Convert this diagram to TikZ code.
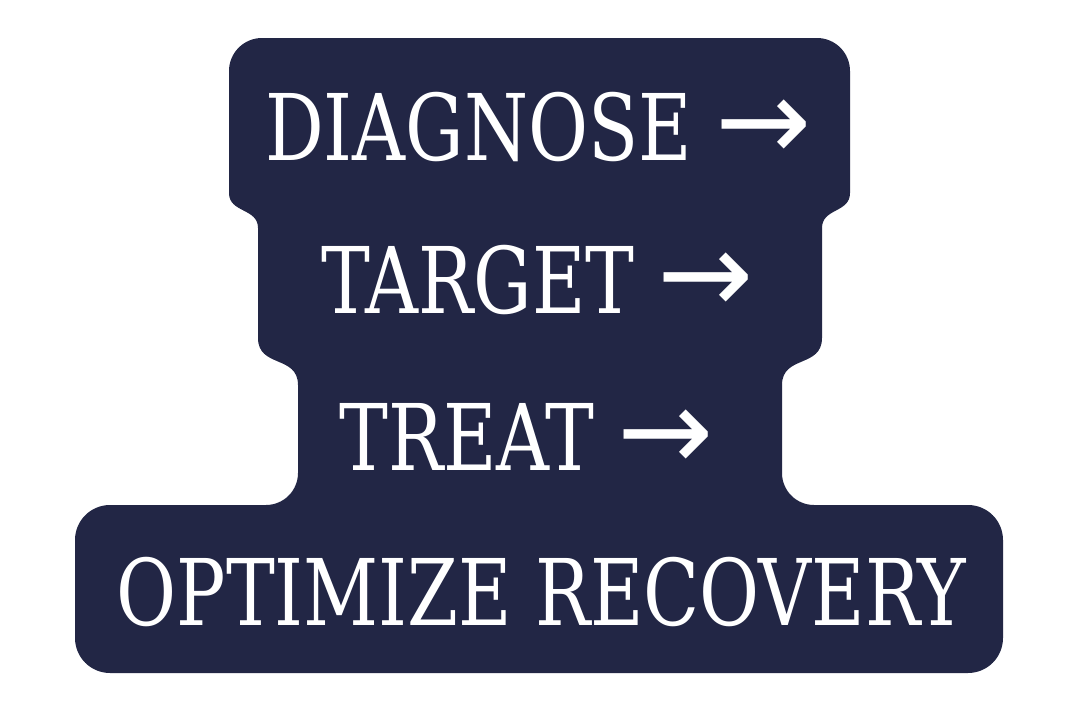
\documentclass[tikz,border=0pt]{standalone}
\usepackage{fontspec}
\setmainfont{DejaVu Serif Condensed}[FakeStretch=0.885]
\newfontfamily\arrowfont{DejaVu Sans}
\newcommand{\arr}{{\arrowfont\fontsize{115}{115}\selectfont →}}
\definecolor{navy}{HTML}{222645}
\begin{document}
\begin{tikzpicture}[x=1pt,y=-1pt,
  lbl/.style={text=white,inner sep=0pt,anchor=base west,font=\fontsize{92}{92}\selectfont}]
\useasboundingbox (0,0) rectangle (1080,728);
\fill[white] (0,0) rectangle (1080,728);
\fill[navy] (262,38) -- (817,38) arc[start angle=-90,end angle=0,radius=33]
  -- (850,193) .. controls (850,213) and (822,208) .. (822,228)
  -- (822,338) .. controls (822,368) and (782,355) .. (782,385)
  -- (782,473) arc[start angle=180,end angle=90,radius=32]
  -- (968,505) arc[start angle=-90,end angle=0,radius=35]
  -- (1003,638) arc[start angle=0,end angle=90,radius=35]
  -- (110,673) arc[start angle=90,end angle=180,radius=35]
  -- (75,540) arc[start angle=180,end angle=270,radius=35]
  -- (266,505) arc[start angle=90,end angle=0,radius=32]
  -- (298,385) .. controls (298,355) and (258,368) .. (258,338)
  -- (258,228) .. controls (258,208) and (229,213) .. (229,193)
  -- (229,71) arc[start angle=180,end angle=270,radius=33] -- cycle;
\node[lbl] (l1) at (265,160) {DIAGNOSE \arr};
\node[lbl] (l2) at (321,313) {TARGET \arr};
\node[lbl] (l3) at (339,470) {TREAT \arr};
\node[lbl,anchor=base] (l4) at (541.5,625) {OPTIMIZE RECOVERY};
\end{tikzpicture}
\end{document}
